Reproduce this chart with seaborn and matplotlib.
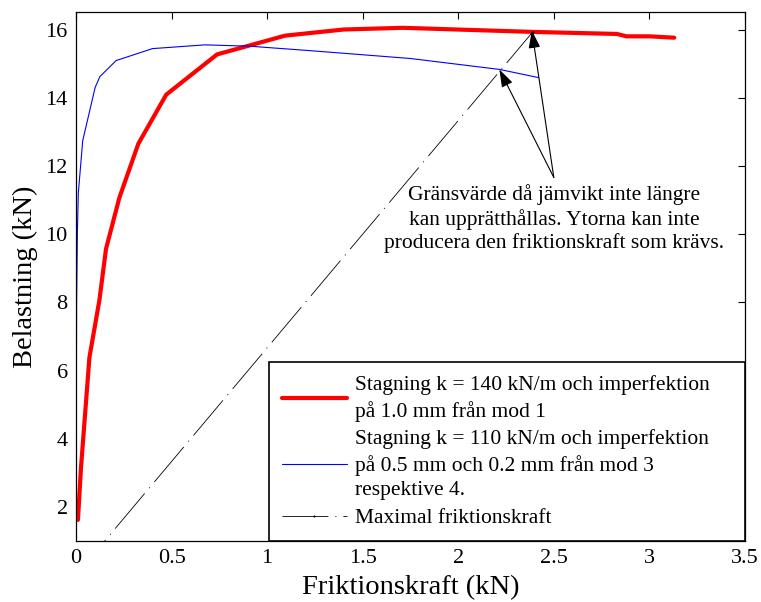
import matplotlib
matplotlib.use("Agg")
import matplotlib.pyplot as plt
import seaborn as sns
import pandas as pd

# Stagning k = 140 kN/m, imperfektion 1.0 mm (mod 1)
red_friction = [0.010, 0.026, 0.038, 0.070, 0.122, 0.157, 0.227, 0.326, 0.472,
                0.738, 1.094, 1.400, 1.710, 2.390, 2.830, 2.880, 3.000, 3.130]
red_load = [1.62, 3.15, 4.03, 6.38, 8.05, 9.57, 11.07, 12.65, 14.09,
            15.27, 15.82, 16.00, 16.05, 15.93, 15.87, 15.80, 15.80, 15.76]

# Stagning k = 110 kN/m, imperfektion 0.5 mm och 0.2 mm (mod 3 resp. 4)
blue_friction = [0.000, 0.003, 0.007, 0.012, 0.035, 0.100, 0.125, 0.210, 0.400,
                 0.675, 0.910, 1.225, 1.750, 2.215, 2.420]
blue_load = [1.70, 8.00, 10.00, 11.20, 12.74, 14.30, 14.62, 15.09, 15.44,
             15.55, 15.51, 15.38, 15.15, 14.83, 14.59]

# Maximal friktionskraft
max_friction = [0.000, 2.390]
max_load = [0.000, 15.93]

labels = [
    "Stagning k = 140 kN/m och imperfektion\npå 1.0 mm från mod 1",
    "Stagning k = 110 kN/m och imperfektion\npå 0.5 mm och 0.2 mm från mod 3\nrespektive 4.",
    "Maximal friktionskraft",
]
annotation = ("Gränsvärde då jämvikt inte längre\n"
              "kan upprätthållas. Ytorna kan inte\n"
              "producera den friktionskraft som krävs.")

sns.set_theme(style="white")
plt.rcParams["font.family"] = ["Liberation Serif", "DejaVu Serif"]
plt.rcParams["lines.scale_dashes"] = False
plt.rcParams["axes.edgecolor"] = "black"
plt.rcParams["axes.linewidth"] = 0.9

fig = plt.figure(figsize=(7.61, 6.02), dpi=100)
ax = fig.add_axes([0.0999, 0.1013, 0.879, 0.878])

red = pd.DataFrame({"x": red_friction, "y": red_load})
blue = pd.DataFrame({"x": blue_friction, "y": blue_load})
blk = pd.DataFrame({"x": max_friction, "y": max_load})

sns.lineplot(data=red, x="x", y="y", ax=ax, sort=False, estimator=None,
             color="#ff0000", lw=3.0, label=labels[0])
sns.lineplot(data=blue, x="x", y="y", ax=ax, sort=False, estimator=None,
             color="#0000ff", lw=0.8, label=labels[1])
sns.lineplot(data=blk, x="x", y="y", ax=ax, sort=False, estimator=None,
             color="black", lw=0.6, marker=".", markersize=3,
             markeredgewidth=0, label=labels[2],
             linestyle=(0, (33, 5, 0.8, 5)))

ax.set_xlim(0, 3.5)
ax.set_ylim(1, 16.5)
ax.set_xticks([0, 0.5, 1, 1.5, 2, 2.5, 3, 3.5])
ax.set_xticklabels(["0", "0.5", "1", "1.5", "2", "2.5", "3", "3.5"])
ax.set_yticks([2, 4, 6, 8, 10, 12, 14, 16])
ax.tick_params(direction="in", length=5, width=0.8, top=True, right=True,
               labelsize=16, colors="black", pad=6)
for s in ax.spines.values():
    s.set_visible(True)
    s.set_color("black")

ax.set_xlabel("Friktionskraft (kN)", fontsize=20.5, labelpad=5, color="black")
ax.set_ylabel("Belastning (kN)", fontsize=20.5, labelpad=5, color="black")

arrow = dict(arrowstyle="-|>,head_length=0.9,head_width=0.3", color="black",
             lw=0.8, shrinkA=0, shrinkB=0)
ax.annotate("", xy=(2.385, 15.97), xytext=(2.50, 11.66), arrowprops=arrow)
ax.annotate("", xy=(2.215, 14.83), xytext=(2.50, 11.66), arrowprops=arrow)
ax.text(2.50, 10.45, annotation, ha="center", va="center",
        multialignment="center", fontsize=15.5, color="black", linespacing=1.22)

leg = ax.legend(loc="lower left", bbox_to_anchor=(0.2885, 0.0, 0.7115, 0.34),
                mode="expand", borderaxespad=0, fancybox=False,
                framealpha=1, edgecolor="black", fontsize=15.5,
                handlelength=3.0, handletextpad=0.4, borderpad=0.6,
                labelspacing=0.35)
leg.get_frame().set_linewidth(1.2)
for t in leg.get_texts():
    t.set_color("black")
    t.set_linespacing(1.38)

fig.savefig("out.png", dpi=100)
